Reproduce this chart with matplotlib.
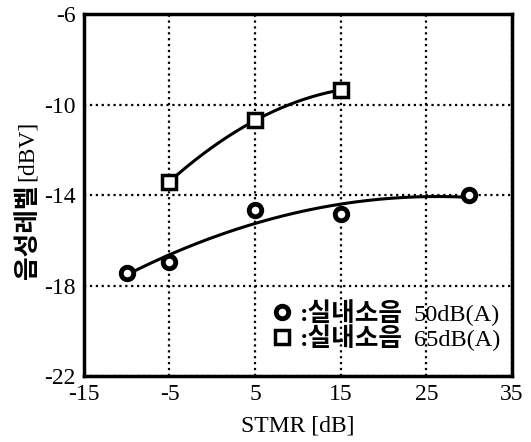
import numpy as np
import matplotlib.pyplot as plt

plt.rcParams['axes.unicode_minus'] = False

# STMR [dB] vs speech level [dBV]
x50 = [-10, -5, 5, 15, 30]
y50 = [-17.45, -16.95, -14.65, -14.85, -14.0]
x65 = [-5, 5, 15]
y65 = [-13.4, -10.7, -9.35]

xticks = [-15, -5, 5, 15, 25, 35]
yticks = [-22, -18, -14, -10, -6]
lab50 = ':실내소음'
lab65 = ':실내소음'
unit50 = '50dB(A)'
unit65 = '65dB(A)'

serif_kr = ['Liberation Serif', 'Noto Sans CJK KR']

fig = plt.figure(figsize=(5.31, 4.42), dpi=100)
ax = fig.add_axes([0.158, 0.149, 0.806, 0.819])

# smooth fitted curves
p50 = np.polyfit(x50, y50, 2)
xs50 = np.linspace(min(x50), max(x50), 200)
ax.plot(xs50, np.polyval(p50, xs50), color='black', lw=2.2, zorder=3)
p65 = np.polyfit(x65, y65, 2)
xs65 = np.linspace(min(x65), max(x65), 200)
ax.plot(xs65, np.polyval(p65, xs65), color='black', lw=2.2, zorder=3)

ax.plot(x50, y50, 'o', ms=9, mfc='white', mec='black', mew=3.5, ls='none',
        label=lab50, zorder=4)
ax.plot(x65, y65, 's', ms=10, mfc='white', mec='black', mew=2.5, ls='none',
        label=lab65, zorder=4)

ax.set_xlim(-15, 35)
ax.set_ylim(-22, -6)
ax.set_xticks(xticks)
ax.set_yticks(yticks)
ax.grid(True, color='black', ls=':', lw=1.6)
ax.tick_params(length=0, labelsize=17, pad=6)
for lab in ax.get_xticklabels() + ax.get_yticklabels():
    lab.set_family('Liberation Serif')
for s in ax.spines.values():
    s.set_linewidth(2.5)

ax.set_xlabel('STMR [dB]', family='Liberation Serif', fontsize=17, labelpad=7)
yl = ax.set_ylabel('음성레벨', family='Noto Sans CJK KR', fontsize=18.5,
                   weight='bold')
ax.yaxis.set_label_coords(-0.10, 0.40)
ax.annotate('[dBV]', xy=(0.5, 1), xycoords=yl, xytext=(0, 2),
            textcoords='offset points', rotation=90, ha='center', va='bottom',
            family='Liberation Serif', fontsize=17)

leg = ax.legend(loc='center left', bbox_to_anchor=(0.435, 0.138), frameon=False,
                prop={'family': serif_kr, 'size': 18.5, 'weight': 'bold'},
                handletextpad=0.25, handlelength=0.9, labelspacing=0.05,
                borderpad=0, borderaxespad=0)
for t, u in zip(leg.get_texts(), [unit50, unit65]):
    ax.annotate(u, xy=(1, 0), xycoords=t, xytext=(8, 0),
                textcoords='offset points', ha='left', va='bottom',
                family='Liberation Serif', fontsize=17.5, zorder=10)

fig.savefig('out.png', dpi=100)
